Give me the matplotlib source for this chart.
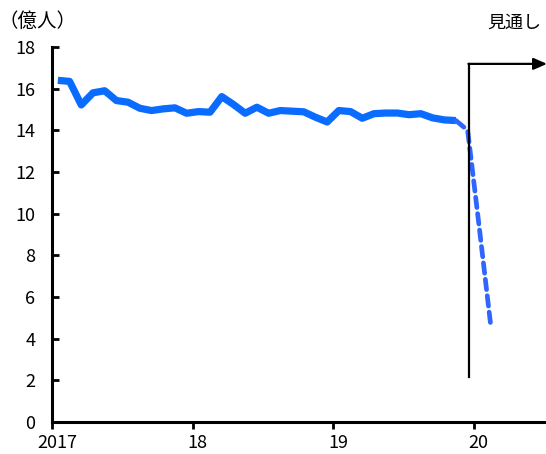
import matplotlib
matplotlib.use("Agg")
import matplotlib.pyplot as plt
import matplotlib.transforms as mtransforms
import numpy as np
import pandas as pd

plt.rcParams['font.family'] = ['Noto Sans CJK JP', 'DejaVu Sans']

# Monthly actuals, Jan 2017 - Nov 2019 (億人)
actual_months = pd.period_range('2017-01', '2019-11', freq='M')
actual_values = [16.4, 16.35, 15.22, 15.8, 15.9, 15.43, 15.35, 15.06, 14.95, 15.03,
                 15.08, 14.82, 14.9, 14.87, 15.62, 15.24, 14.82, 15.11, 14.82, 14.95,
                 14.92, 14.89, 14.63, 14.4, 14.95, 14.9, 14.58, 14.8, 14.83, 14.83,
                 14.75, 14.8, 14.6, 14.5, 14.47]

# Outlook, Nov 2019 - Feb 2020
outlook_months = pd.period_range('2019-11', '2020-02', freq='M')
outlook_values = [14.47, 14.0, 9.3, 4.5]

year_ticks = [2017, 2018, 2019, 2020]
year_labels = ['2017', '18', '19', '20']
y_ticks = [0, 2, 4, 6, 8, 10, 12, 14, 16, 18]


def mid_month(periods):
    return np.array([p.year + (p.month - 0.5) / 12 for p in periods])


W, H = 546, 454
PX_PER_YEAR = 140.5
fig = plt.figure(figsize=(W / 100, H / 100), dpi=100)
ax = fig.add_axes([52 / W, (H - 422) / H, (545 - 52) / W, (422 - 47) / H])

blue = '#0a6cff'
ax.plot(mid_month(actual_months), actual_values, color=blue, lw=5.2,
        solid_joinstyle='round', solid_capstyle='butt', zorder=3)
ax.plot(mid_month(outlook_months), outlook_values, color='#2f66ff', lw=3.4,
        ls=(0, (2.2, 1.3)), dash_capstyle='round', zorder=3)

ax.set_xlim(2017, 2017 + (545 - 52) / PX_PER_YEAR)
ax.set_ylim(0, 18)
ax.set_xticks(year_ticks)
ax.set_xticklabels(year_labels)
ax.set_yticks(y_ticks)

for side in ('top', 'right'):
    ax.spines[side].set_visible(False)
for side in ('left', 'bottom'):
    ax.spines[side].set_linewidth(2.2)
ax.tick_params(axis='y', direction='in', length=5, width=2, labelsize=13, pad=12)
ax.tick_params(axis='x', direction='out', length=5, width=2, labelsize=13, pad=4)

# year labels sit a little to the right of their ticks
shift = mtransforms.ScaledTranslation(5 / 100, 0, fig.dpi_scale_trans)
for lbl in ax.get_xticklabels():
    lbl.set_transform(lbl.get_transform() + shift)

# Outlook marker: vertical bar with arrow to the right
x_split = 2017 + (469 - 52) / PX_PER_YEAR
y_top = 17.19
ax.plot([x_split, x_split], [2.17, y_top], color='black', lw=1.6, clip_on=False, zorder=4)
ax.annotate('', xy=(2017 + (547 - 52) / PX_PER_YEAR, y_top), xytext=(x_split - 0.004, y_top),
            arrowprops=dict(arrowstyle='-|>,head_length=0.8,head_width=0.35',
                            color='black', lw=1.6, shrinkA=0, shrinkB=0),
            annotation_clip=False, zorder=4)

fig.text(514 / W, 1 - 23 / H, '見通し', ha='center', va='center', fontsize=13)
fig.text(38 / W, 1 - 21 / H, '（億人）', ha='center', va='center', fontsize=14)

fig.savefig('out.png', dpi=100)
